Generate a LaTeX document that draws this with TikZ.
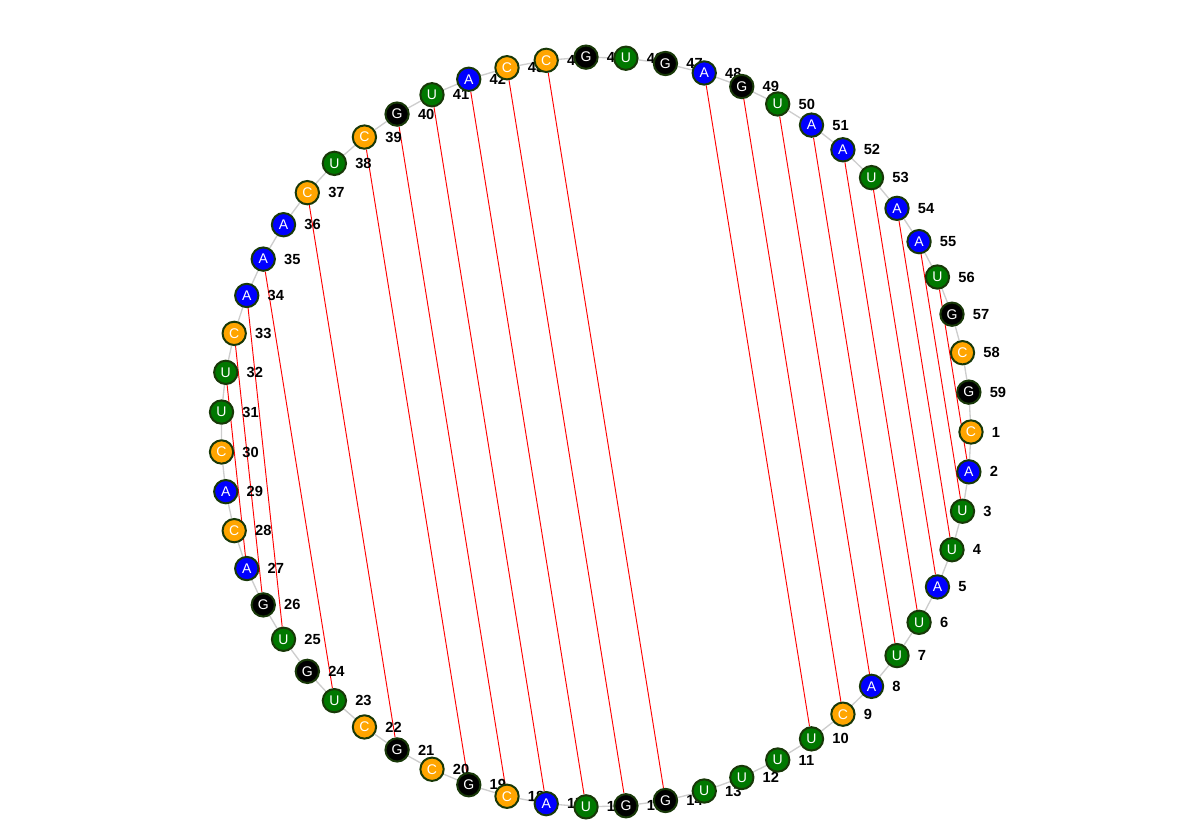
\documentclass[tikz,border=0pt]{standalone}
\usepackage{fontspec}
\setmainfont{Liberation Sans}
\usepackage{tikz}
\usetikzlibrary{positioning}
\pgfdeclarelayer{edgelayer}
\pgfdeclarelayer{numlayer}
\pgfsetlayers{edgelayer,numlayer,main}

\definecolor{baseA}{RGB}{0,0,255}
\definecolor{baseU}{RGB}{0,120,0}
\definecolor{baseG}{RGB}{0,0,0}
\definecolor{baseC}{RGB}{255,165,0}
\definecolor{rim}{RGB}{24,56,8}
\definecolor{strand}{RGB}{205,205,205}

\tikzset{
  nt/.style={circle, draw=rim, line width=1.5pt, minimum size=17.5pt, inner sep=0pt,
    text=white, font=\fontsize{10.5}{12}\selectfont},
  num/.style={inner sep=0pt, font=\fontsize{11}{13}\selectfont\bfseries},
  backbone/.style={draw=strand, line width=1pt},
  pair/.style={draw=red, line width=0.7pt}
}

\begin{document}
\begin{tikzpicture}[x=0.75pt, y=0.75pt]
  \useasboundingbox (-596,-396) rectangle (587,432);
  % bases round the circle, 1 at the right, counting clockwise
  \foreach \b [count=\i] in {C,A,U,U,A,U,U,A,C,U,U,U,U,G,G,U,A,C,G,C,G,C,U,G,U,G,A,C,A,C,
                             U,U,C,A,A,A,C,U,C,G,U,A,C,C,G,U,G,A,G,U,A,A,U,A,A,U,G,C,G} {
    \node[nt, fill=base\b] (n\i) at ({-(\i-1)/59*360}:375) {\b};
    \begin{pgfonlayer}{numlayer}
      \node[num, right=6pt of n\i] (l\i) {\i};
    \end{pgfonlayer}
  }
  \begin{pgfonlayer}{edgelayer}
    % backbone
    \foreach \i [remember=\i as \j (initially 59)] in {1,...,59}
      \draw[backbone] (n\j) -- (n\i);
    % base pairs
    \foreach \p/\q in {2/56,3/55,4/54,5/53,6/52,7/51,8/50,9/49,10/48,
                       14/44,15/43,16/42,17/41,18/40,19/39,21/37,23/35,25/34,26/33,27/32}
      \draw[pair] (n\p) -- (n\q);
  \end{pgfonlayer}
\end{tikzpicture}
\end{document}
